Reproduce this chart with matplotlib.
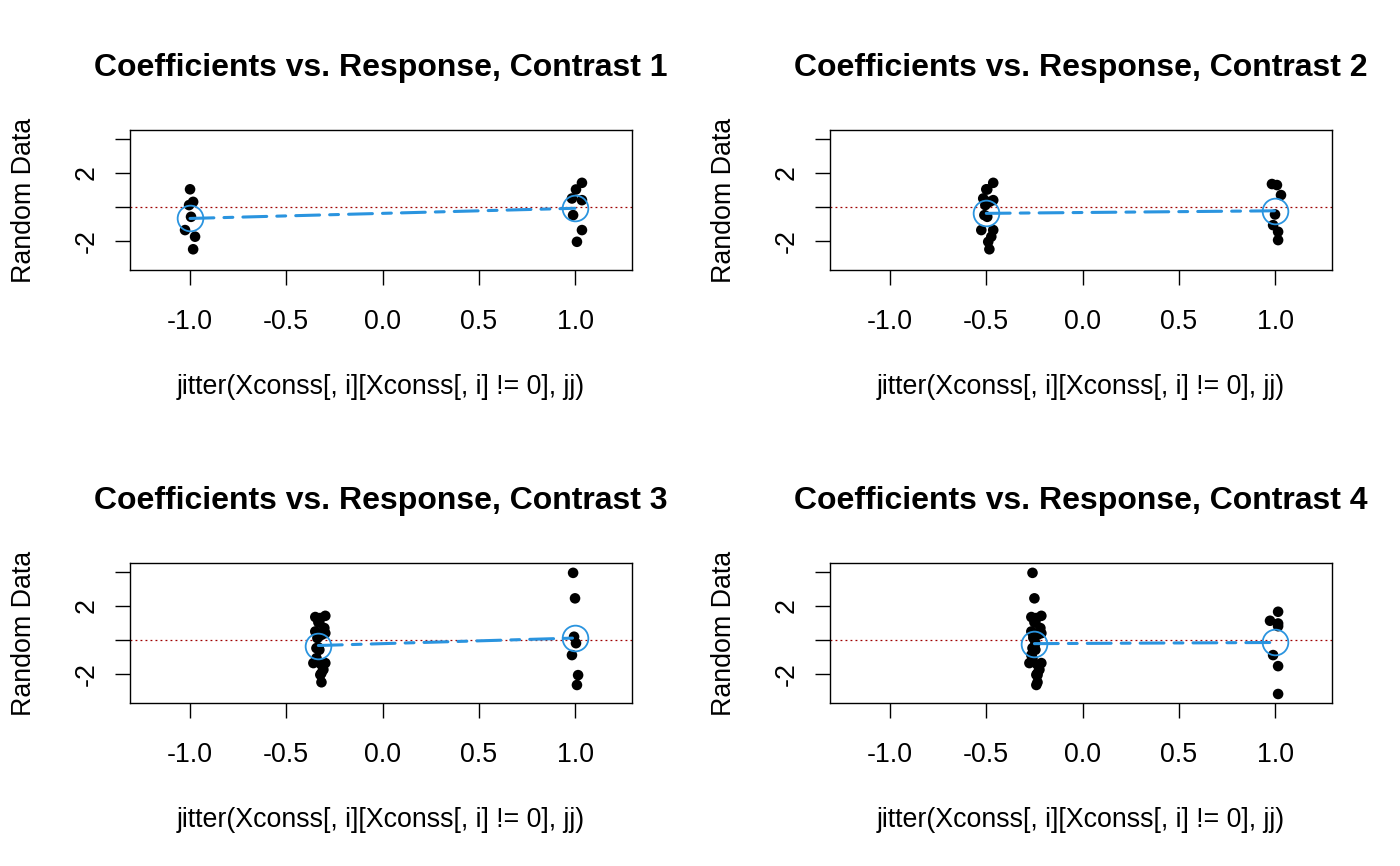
import numpy as np
import matplotlib
matplotlib.use("Agg")
import matplotlib.pyplot as plt

plt.rcParams['font.family'] = ['Liberation Sans', 'DejaVu Sans']

# response values per group (5 groups)
group1 = [1.03, 0.29, 0.10, -0.59, -1.37, -1.76, -2.50]
group2 = [1.41, 1.02, 0.49, 0.39, -0.49, -1.37, -2.06]
group3 = [1.34, 1.28, 0.69, -0.45, -1.08, -1.47, -1.96]
group4 = [3.94, 2.44, 0.18, -0.20, -0.90, -2.08, -2.66]
group5 = [1.65, 1.12, 0.96, 0.80, -0.90, -1.55, -3.19]
groups = [group1, group2, group3, group4, group5]

# small x jitter offsets per point
jit1 = [0.0, 0.016, -0.005, 0.005, -0.026, 0.026, 0.016]
jit2 = [0.036, 0.005, -0.016, 0.036, -0.010, 0.036, 0.010]
jit3 = [-0.016, 0.010, 0.031, 0.0, -0.010, 0.016, 0.016]
jit4 = [-0.010, 0.0, -0.005, 0.005, -0.016, 0.016, 0.010]
jit5 = [0.016, -0.026, 0.016, 0.016, -0.010, 0.016, 0.016]
jits = [jit1, jit2, jit3, jit4, jit5]

# helmert-type contrasts
contrasts = [[-1, 1, 0, 0, 0],
             [-1/2, -1/2, 1, 0, 0],
             [-1/3, -1/3, -1/3, 1, 0],
             [-1/4, -1/4, -1/4, -1/4, 1]]

titles = ["Coefficients vs. Response, Contrast %d" % (i + 1) for i in range(4)]
xlab = "jitter(Xconss[, i][Xconss[, i] != 0], jj)"
ylab = "Random Data"

blue = "#2A94DF"

fig = plt.figure(figsize=(14, 8.66), dpi=100)
W, H = 1400.0, 866.0
boxes = [(130, 130), (830, 130), (130, 563), (830, 563)]

for i in range(4):
    x0, y0 = boxes[i]
    ax = fig.add_axes([x0 / W, 1 - (y0 + 140) / H, 502 / W, 140 / H])
    cc = contrasts[i]
    xs, ys = [], []
    neg, pos = [], []
    for g in range(5):
        if cc[g] == 0:
            continue
        for v, j in zip(groups[g], jits[g]):
            xs.append(cc[g] + j)
            ys.append(v)
            if cc[g] < 0:
                neg.append(v)
            else:
                pos.append(v)
    ax.axhline(0, color="#A00000", lw=0.9, ls=(0, (1.5, 2.5)), zorder=1)
    ax.scatter(xs, ys, s=58, c="black", edgecolors="none", zorder=2)
    xneg = [c for c in cc if c < 0][0]
    mx = [xneg, 1]
    my = [np.mean(neg), np.mean(pos)]
    ax.plot(mx, my, color=blue, lw=2.2, dashes=(7.8, 3.3, 2.9, 3.3),
            dash_capstyle="round", zorder=3)
    ax.plot(mx, my, "o", ms=18.5, mfc="none", mec=blue, mew=1.3, zorder=4)

    ax.set_xlim(-1.312, 1.296)
    ax.set_ylim(-3.72, 4.52)
    ax.set_xticks([-1.0, -0.5, 0.0, 0.5, 1.0])
    ax.set_xticklabels(["-1.0", "-0.5", "0.0", "0.5", "1.0"])
    ax.set_yticks([-2, 0, 2, 4])
    ax.set_yticklabels(["-2", "", "2", ""], rotation=90, va="center")
    ax.tick_params(axis="both", length=11, width=1, labelsize=19.3)
    ax.tick_params(axis="x", pad=17)
    ax.tick_params(axis="y", pad=11)
    for s in ax.spines.values():
        s.set_linewidth(1)
    ax.set_title(titles[i], fontsize=23, fontweight="bold", pad=39)
    ax.set_xlabel(xlab, fontsize=19.3, labelpad=28)
    ax.set_ylabel(ylab, fontsize=19.3, labelpad=26)

plt.savefig("out.png", dpi=100)
